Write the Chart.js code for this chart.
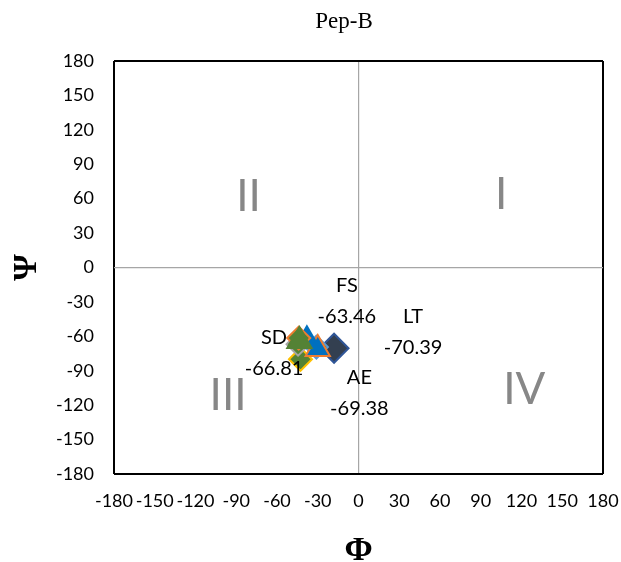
<!DOCTYPE html>
<html>
<head>
<meta charset="utf-8">
<script src="https://cdn.jsdelivr.net/npm/chart.js@4"></script>
<style>
  body { margin: 0; background: #fff; }
  canvas { display: block; }
</style>
</head>
<body>
<canvas id="rama" width="621" height="562"></canvas>
<script>
// valeurs
const phiTicks = [-180, -150, -120, -90, -60, -30, 0, 30, 60, 90, 120, 150, 180];
const psiTicks = [-180, -150, -120, -90, -60, -30, 0, 30, 60, 90, 120, 150, 180];

const phiValues = [-43.5, -44, -38, -30, -44.5, -31, -42.7, -18];
const psiValues = [-64, -61.5, -63.46, -71, -66.81, -69.38, -80, -70.39];
const pointNames = ["", "", "FS", "", "SD", "AE", "", "LT"];

const quadrantNames = ["I", "II", "III", "IV"];
const quadrantPhi = [105, -81, -96, 122];
const quadrantPsi = [63, 62, -112, -107];

// styles des marqueurs (Excel)
const shapes = ["triangle", "rectRot", "triangle", "triangle", "rectRot", "rectRot", "rectRot", "rectRot"];
const fills = ["#548235", "#548235", "#0070c0", "#0070c0", "#548235", "#548235", "#548235", "#333f50"];
const edges = ["#548235", "#ed7d31", "#0070c0", "#ed7d31", "#a5a5a5", "#5b9bd5", "#ffc000", "#2f5597"];
const radii = [14, 11.5, 14, 14, 11.5, 11.5, 11.5, 14.5];

// décalage des étiquettes (px) par rapport au point
const labelShift = { FS: [40, -39], SD: [-24, 9], AE: [43, 46], LT: [79, -16] };

const datasets = phiValues.map((x, i) => ({
  label: pointNames[i] || "p" + i,
  data: [{ x: x, y: psiValues[i] }],
  pointStyle: shapes[i],
  pointRadius: radii[i],
  pointHoverRadius: radii[i],
  backgroundColor: fills[i],
  borderColor: edges[i],
  borderWidth: 2,
}));

// titre, quadrants et étiquettes de données
const extras = {
  id: "extras",
  afterDatasetsDraw(chart) {
    const { ctx, scales } = chart;
    ctx.save();
    ctx.textAlign = "center";
    ctx.textBaseline = "middle";

    ctx.fillStyle = "#000";
    ctx.font = "23px 'Liberation Serif'";
    ctx.fillText("Pep-B", 344, 22);

    ctx.fillStyle = "#878787";
    ctx.font = "44px Lato";
    quadrantNames.forEach((q, i) => {
      ctx.fillText(q, scales.x.getPixelForValue(quadrantPhi[i]), scales.y.getPixelForValue(quadrantPsi[i]));
    });

    ctx.fillStyle = "#000";
    ctx.font = "20px Lato";
    pointNames.forEach((name, i) => {
      if (!name) return;
      const px = scales.x.getPixelForValue(phiValues[i]) + labelShift[name][0];
      const py = scales.y.getPixelForValue(psiValues[i]) + labelShift[name][1];
      ctx.fillText(name, px, py - 15.5);
      ctx.fillText(psiValues[i].toFixed(2), px, py + 15.5);
    });
    ctx.restore();
  },
};

const gridColor = (c) => {
  const v = c.tick.value;
  if (v === 0) return "#a6a6a6";
  if (v === 180 || v === -180) return "#000";
  return "rgba(0,0,0,0)";
};
const gridWidth = (c) => (Math.abs(c.tick.value) === 180 ? 2 : 1.2);

new Chart(document.getElementById("rama"), {
  type: "scatter",
  data: { datasets: datasets },
  options: {
    responsive: false,
    animation: false,
    layout: { padding: { top: 61, right: 18, left: 0, bottom: 0 } },
    plugins: { legend: { display: false }, tooltip: { enabled: false } },
    scales: {
      x: {
        min: -180,
        max: 180,
        afterBuildTicks: (s) => { s.ticks = phiTicks.map((v) => ({ value: v })); },
        afterFit: (s) => { s.height = 88; s.paddingLeft = 0; s.paddingRight = 0; },
        grid: { color: gridColor, lineWidth: gridWidth, drawTicks: false },
        border: { display: false },
        ticks: { color: "#000", font: { family: "Lato", size: 18 }, padding: 16, maxRotation: 0, autoSkip: false },
        title: {
          display: true,
          text: "Φ",
          color: "#000",
          font: { family: "'Liberation Serif'", size: 34, weight: "bold", lineHeight: 0.66 },
          padding: 0,
        },
      },
      y: {
        min: -180,
        max: 180,
        afterBuildTicks: (s) => { s.ticks = psiTicks.map((v) => ({ value: v })); },
        afterFit: (s) => { s.width = 114; s.paddingTop = 0; s.paddingBottom = 0; },
        grid: { color: gridColor, lineWidth: gridWidth, drawTicks: false },
        border: { display: false },
        ticks: { color: "#000", font: { family: "Lato", size: 18 }, padding: 20, autoSkip: false },
        title: {
          display: true,
          text: "Ψ",
          color: "#000",
          font: { family: "'Liberation Serif'", size: 34, weight: "bold", lineHeight: 1 },
          padding: { top: 10, bottom: 0 },
        },
      },
    },
  },
  plugins: [extras],
});
</script>
</body>
</html>
